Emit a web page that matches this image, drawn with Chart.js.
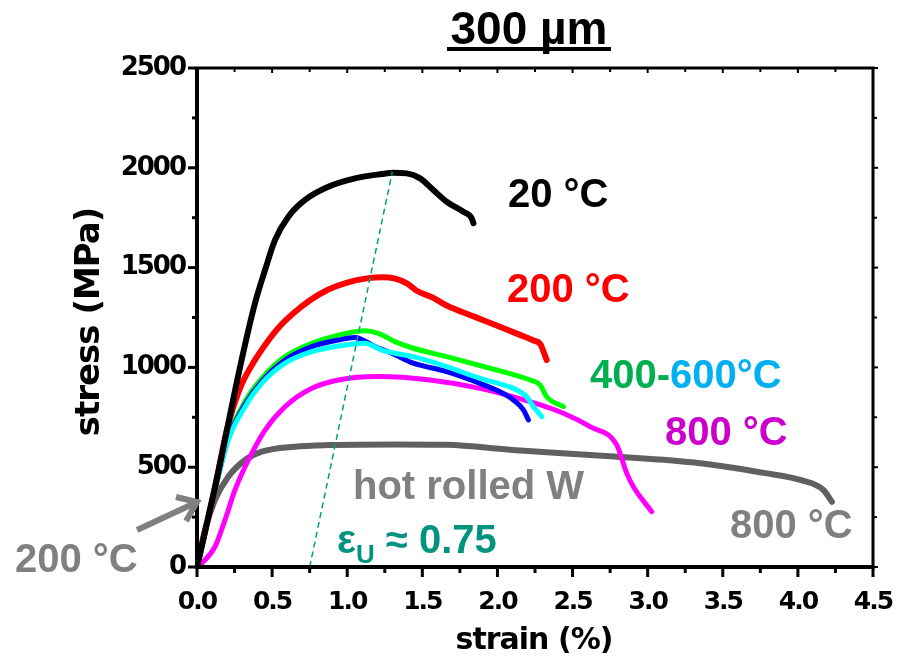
<!DOCTYPE html>
<html>
<head>
<meta charset="utf-8">
<script src="https://cdn.jsdelivr.net/npm/chart.js@4.4.1/dist/chart.umd.min.js"></script>
<style>
  html, body { margin: 0; padding: 0; background: #fff; }
  #wrap { width: 897px; height: 667px; }
</style>
</head>
<body>
<div id="wrap"><canvas id="chart" width="897" height="667"></canvas></div>
<script>
// --- data: strain (%) / stress (MPa) ---
const strain20 = [0, 0.12, 0.297, 0.386, 0.453, 0.519, 0.608, 0.719, 0.874, 1.052, 1.23, 1.307, 1.396, 1.485, 1.573, 1.662, 1.773, 1.829, 1.84];
const stress20 = [0, 400, 1037, 1321, 1488, 1638, 1755, 1839, 1905, 1947, 1969, 1975, 1972, 1947, 1889, 1830, 1780, 1747, 1722];

const strain200 = [0, 0.12, 0.2, 0.25, 0.3, 0.38, 0.47, 0.55, 0.64, 0.75, 0.874, 1.0, 1.13, 1.23, 1.32, 1.40, 1.46, 1.573, 1.662, 1.85, 1.995, 2.15, 2.25, 2.284, 2.328];
const stress200 = [0, 400, 690, 820, 920, 1030, 1130, 1205, 1270, 1335, 1390, 1425, 1446, 1452, 1445, 1420, 1385, 1348, 1310, 1253, 1210, 1163, 1132, 1118, 1037];

const strain400 = [0, 0.12, 0.208, 0.32, 0.431, 0.586, 0.764, 0.941, 1.118, 1.207, 1.318, 1.44, 1.662, 1.995, 2.1, 2.217, 2.284, 2.328, 2.439];
const stress400 = [0, 390, 650, 830, 945, 1054, 1121, 1162, 1184, 1171, 1129, 1096, 1054, 987, 965, 937, 912, 853, 803];

const strain500 = [0, 0.12, 0.208, 0.32, 0.431, 0.586, 0.764, 0.941, 1.052, 1.185, 1.296, 1.44, 1.662, 1.884, 2.017, 2.106, 2.173, 2.206];
const stress500 = [0, 388, 642, 815, 930, 1037, 1104, 1137, 1150, 1104, 1071, 1021, 979, 920, 878, 837, 787, 737];

const strain600 = [0, 0.12, 0.208, 0.32, 0.431, 0.586, 0.764, 0.941, 1.074, 1.118, 1.23, 1.318, 1.44, 1.662, 1.884, 2.106, 2.195, 2.24, 2.295];
const stress600 = [0, 386, 636, 803, 920, 1021, 1079, 1107, 1120, 1121, 1087, 1071, 1054, 1004, 945, 895, 853, 803, 753];

const strain800 = [0, 0.031, 0.12, 0.186, 0.253, 0.342, 0.453, 0.586, 0.764, 0.941, 1.207, 1.551, 1.884, 2.217, 2.439, 2.617, 2.794, 2.861, 2.905, 3.027];
const stress800 = [0, 18, 102, 235, 386, 536, 686, 803, 895, 937, 954, 937, 895, 828, 770, 703, 611, 469, 402, 277];

const strainHotRolled = [0, 0.053, 0.12, 0.208, 0.32, 0.431, 0.652, 0.874, 1.318, 1.662, 2.1, 2.75, 3.349, 3.793, 4.015, 4.17, 4.226];
const stressHotRolled = [0, 185, 336, 452, 536, 578, 603, 611, 614, 612, 586, 555, 520, 469, 436, 386, 327];

// uniform elongation guide line
const strainUniform = [0.75, 1.30];
const stressUniform = [0, 1980];

const strainTicks = [0, 0.5, 1.0, 1.5, 2.0, 2.5, 3.0, 3.5, 4.0, 4.5];
const stressTicks = [0, 500, 1000, 1500, 2000, 2500];

function toPoints(xs, ys) {
    return xs.map((x, i) => ({ x: x, y: ys[i] }));
}

function curve(xs, ys, color, width) {
    return {
        data: toPoints(xs, ys),
        borderColor: color,
        borderWidth: width,
        pointRadius: 0,
        fill: false,
        cubicInterpolationMode: 'monotone',
        borderCapStyle: 'round',
        borderJoinStyle: 'round'
    };
}

// first dataset ends up on top
const datasets = [
    Object.assign(curve(strainUniform, stressUniform, '#00a088', 1.5), { borderDash: [6, 4], cubicInterpolationMode: 'default', borderCapStyle: 'butt' }),
    curve(strain20, stress20, '#000000', 6),
    curve(strain200, stress200, '#ff0000', 6),
    curve(strain600, stress600, '#00ffff', 5),
    curve(strain500, stress500, '#0000ff', 5),
    curve(strain400, stress400, '#00ff00', 5),
    curve(strain800, stress800, '#ff00ff', 5),
    curve(strainHotRolled, stressHotRolled, '#606060', 6)
];

const LABEL_FONT = '"Liberation Sans", Arial, sans-serif';

function text(ctx, str, x, y, color, size, align) {
    ctx.font = 'bold ' + size + 'px ' + LABEL_FONT;
    ctx.fillStyle = color;
    ctx.textAlign = align || 'left';
    ctx.textBaseline = 'alphabetic';
    ctx.fillText(str, x, y);
    return ctx.measureText(str).width;
}

function seg(ctx, x1, y1, x2, y2, w) {
    ctx.lineWidth = w;
    ctx.beginPath();
    ctx.moveTo(x1, y1);
    ctx.lineTo(x2, y2);
    ctx.stroke();
}

const decorPlugin = {
    id: 'decor',
    beforeDraw(chart) {
        chart.ctx.letterSpacing = '-2px';
    },
    beforeDatasetsDraw(chart) {
        chart.ctx.letterSpacing = '0px';
    },
    afterDraw(chart) {
        const ctx = chart.ctx;
        const a = chart.chartArea;
        const xs = chart.scales.x;
        const ys = chart.scales.y;
        ctx.save();
        ctx.letterSpacing = '0px';
        ctx.strokeStyle = '#000';
        ctx.lineCap = 'butt';

        // frame
        seg(ctx, a.left, a.top - 1, a.left, a.bottom + 2, 4);
        seg(ctx, a.left - 2, a.bottom, a.right + 1.5, a.bottom, 4);
        seg(ctx, a.left, a.top, a.right + 1.5, a.top, 3);
        seg(ctx, a.right, a.top, a.right, a.bottom, 3);

        // x ticks (major + minor), outward at bottom, inward at top
        strainTicks.forEach((v, i) => {
            const px = xs.getPixelForValue(v);
            seg(ctx, px, a.bottom, px, a.bottom + 10, 3);
            seg(ctx, px, a.top, px, a.top + 5, 2);
            if (i < strainTicks.length - 1) {
                const pm = xs.getPixelForValue((v + strainTicks[i + 1]) / 2);
                seg(ctx, pm, a.bottom, pm, a.bottom + 6, 3);
                seg(ctx, pm, a.top, pm, a.top + 4, 2);
            }
        });
        // y ticks
        stressTicks.forEach((v, i) => {
            const py = ys.getPixelForValue(v);
            seg(ctx, a.left - 9, py, a.left, py, 3);
            seg(ctx, a.right, py, a.right + 5, py, 2);
            if (i < stressTicks.length - 1) {
                const pm = ys.getPixelForValue((v + stressTicks[i + 1]) / 2);
                seg(ctx, a.left - 5, pm, a.left, pm, 3);
                seg(ctx, a.right, pm, a.right + 4, pm, 2);
            }
        });

        // axis titles
        ctx.letterSpacing = '-1px';
        ctx.fillStyle = '#000';
        ctx.textAlign = 'center';
        ctx.textBaseline = 'middle';
        ctx.font = 'bold 30px "DejaVu Sans", sans-serif';
        ctx.fillText('strain (%)', 534, 641);
        ctx.save();
        ctx.translate(90, 322);
        ctx.rotate(-Math.PI / 2);
        ctx.font = 'bold 34px "DejaVu Sans", sans-serif';
        ctx.fillText('stress (MPa)', 0, 0);
        ctx.restore();
        ctx.letterSpacing = '0px';

        // title
        text(ctx, '300 µm', 529, 44, '#000', 46, 'center');
        ctx.fillStyle = '#000';
        ctx.fillRect(447, 47, 164, 4);

        // curve labels
        text(ctx, '20 °C', 508, 207, '#000000', 40);
        text(ctx, '200 °C', 507, 302, '#ff0000', 40);
        const w400 = text(ctx, '400-', 590, 388, '#00b050', 40);
        text(ctx, '600°C', 590 + w400, 388, '#00b0f0', 40);
        text(ctx, '800 °C', 665, 445, '#cc00cc', 40);
        text(ctx, 'hot rolled W', 353, 499, '#808080', 40);
        text(ctx, '800 °C', 730, 538, '#808080', 40);
        text(ctx, '200 °C', 15, 572, '#808080', 40);

        // uniform elongation label
        const teal = '#00937f';
        let x = 337;
        x += text(ctx, 'ε', x, 553, teal, 40);
        x += text(ctx, 'U', x, 563, teal, 26);
        text(ctx, ' ≈ 0.75', x, 553, teal, 40);

        // arrow to the 200 °C hot rolled curve
        ctx.strokeStyle = '#808080';
        ctx.lineCap = 'butt';
        ctx.lineJoin = 'miter';
        seg(ctx, 137, 530, 195, 503, 6);
        ctx.lineWidth = 6;
        ctx.beginPath();
        ctx.moveTo(176, 497);
        ctx.lineTo(197, 502);
        ctx.lineTo(186, 521);
        ctx.stroke();

        ctx.restore();
    }
};

new Chart(document.getElementById('chart'), {
    type: 'line',
    data: { datasets: datasets },
    options: {
        responsive: false,
        animation: false,
        devicePixelRatio: 1,
        layout: { padding: { left: 0, top: 68, right: 24, bottom: 0 } },
        plugins: { legend: { display: false }, tooltip: { enabled: false } },
        scales: {
            x: {
                type: 'linear',
                min: 0,
                max: 4.5,
                afterBuildTicks: (scale) => { scale.ticks = strainTicks.map(v => ({ value: v })); },
                afterFit: (scale) => {
                    scale.height = 100;
                    scale.paddingLeft = 0;
                    scale.paddingRight = 0;
                },
                grid: { display: false, drawTicks: false },
                border: { display: false },
                ticks: {
                    padding: 20,
                    color: '#000',
                    maxRotation: 0,
                    autoSkip: false,
                    font: { family: '"DejaVu Sans", sans-serif', size: 25, weight: 'bold' },
                    callback: (v) => Number(v).toFixed(1)
                }
            },
            y: {
                type: 'linear',
                min: 0,
                max: 2500,
                afterBuildTicks: (scale) => { scale.ticks = stressTicks.map(v => ({ value: v })); },
                afterFit: (scale) => {
                    scale.width = 197;
                    scale.paddingTop = 0;
                    scale.paddingBottom = 0;
                },
                grid: { display: false, drawTicks: false },
                border: { display: false },
                ticks: {
                    padding: 12,
                    color: '#000',
                    autoSkip: false,
                    font: { family: '"DejaVu Sans", sans-serif', size: 26, weight: 'bold' },
                    callback: (v) => String(v)
                }
            }
        }
    },
    plugins: [decorPlugin]
});
</script>
</body>
</html>
